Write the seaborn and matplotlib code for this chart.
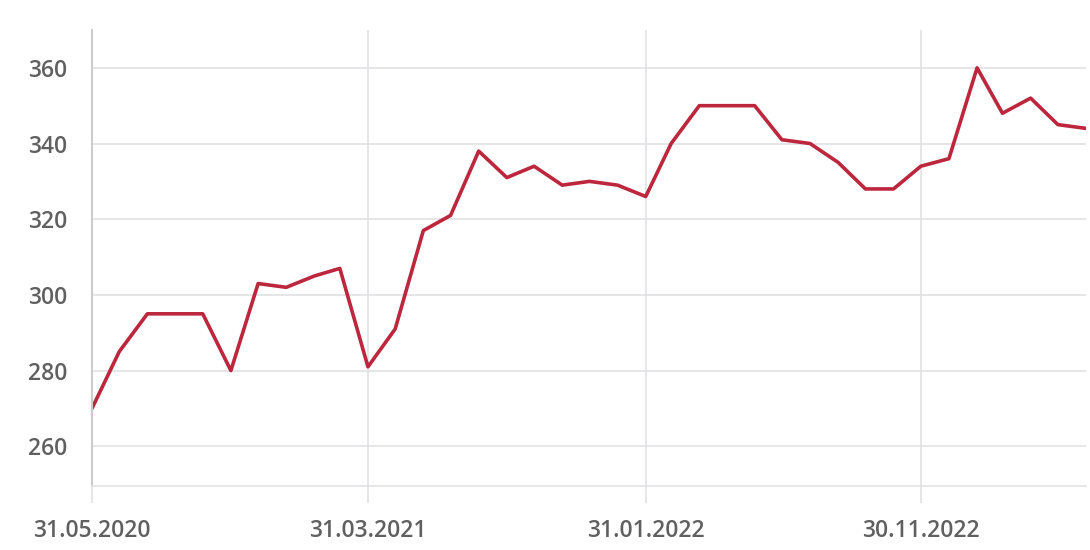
import pandas as pd
import seaborn as sns
import matplotlib.pyplot as plt
import matplotlib.dates as mdates

# monthly values, 31.05.2020 .. 31.05.2023
values = [270, 285, 295, 295, 295, 280, 303, 302, 305, 307,
          281, 291, 317, 321, 338, 331, 334, 329, 330, 329,
          326, 340, 350, 350, 350, 341, 340, 335, 328, 328,
          334, 336, 360, 348, 352, 345, 344]
dates = pd.date_range('2020-05-31', periods=len(values), freq='ME')
tick_dates = pd.to_datetime(['2020-05-31', '2021-03-31', '2022-01-31', '2022-11-30'])
y_ticks = [260, 280, 300, 320, 340, 360]

line_color = '#BC273D'
grid_color = '#E1E1E4'
text_color = '#606060'

sns.set_theme(style='white')
plt.rcParams['font.family'] = ['Open Sans', 'DejaVu Sans']
plt.rcParams['font.weight'] = 'semibold'

df = pd.DataFrame({'date': dates, 'value': values})

fig = plt.figure(figsize=(10.9, 5.5), dpi=100)
ax = fig.add_axes([92 / 1090, 1 - 486 / 550, 1 - 92 / 1090 - 4 / 1090, (486 - 30) / 550])

sns.lineplot(data=df, x='date', y='value', ax=ax, color=line_color, linewidth=2.6)

ax.set_xlim(dates[0], dates[-1])
ax.set_ylim(249.5, 370)
ax.set_xticks(tick_dates)
ax.xaxis.set_major_formatter(mdates.DateFormatter('%d.%m.%Y'))
ax.set_yticks(y_ticks)

ax.grid(True, color=grid_color, linewidth=1.2)
ax.set_axisbelow(True)
ax.set_xlabel('')
ax.set_ylabel('')

for side in ['top', 'right']:
    ax.spines[side].set_visible(False)
ax.spines['left'].set_color('#CCCCCC')
ax.spines['left'].set_linewidth(1.5)
ax.spines['bottom'].set_color(grid_color)
ax.spines['bottom'].set_linewidth(1.2)

ax.tick_params(axis='y', length=16, width=1.2, color=grid_color, labelsize=16.5,
               labelcolor=text_color, pad=2)
ax.tick_params(axis='x', length=12, width=1.2, color=grid_color, labelsize=16.5,
               labelcolor=text_color, pad=12, bottom=True)

fig.savefig('out.png', dpi=100)
